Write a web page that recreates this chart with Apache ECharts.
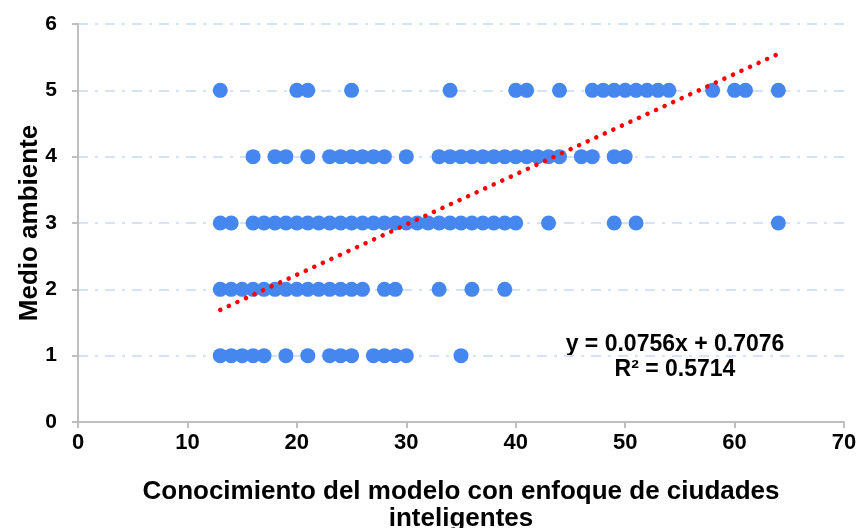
<!DOCTYPE html>
<html>
<head>
<meta charset="utf-8">
<script src="https://cdn.jsdelivr.net/npm/echarts@6/dist/echarts.min.js"></script>
<style>html,body{margin:0;padding:0;background:#fff;}#c{width:856px;height:528px;}</style>
</head>
<body>
<div id="c"></div>
<script>
// x values (Conocimiento) observed at each y level (Medio ambiente)
const xAtLevel1 = [13,14,15,16,17,19,21,23,24,25,27,28,29,30,35];
const xAtLevel2 = [13,14,15,16,17,18,19,20,21,22,23,24,25,26,28,29,33,36,39];
const xAtLevel3 = [13,14,16,17,18,19,20,21,22,23,24,25,26,27,28,29,30,31,32,33,34,35,36,37,38,39,40,43,49,51,64];
const xAtLevel4 = [16,18,19,21,23,24,25,26,27,28,30,33,34,35,36,37,38,39,40,41,42,43,44,46,47,49,50];
const xAtLevel5 = [13,20,21,25,34,40,41,44,47,48,49,50,51,52,53,54,58,60,61,64];
const levels = [1,2,3,4,5];
const trendX = [13, 64];
const trendY = [1.69, 5.55];
const xTicks = [0,10,20,30,40,50,60,70];
const yTicks = [0,1,2,3,4,5,6];
const equationText = 'y = 0.0756x + 0.7076';
const r2Text = 'R² = 0.5714';

const rows = [xAtLevel1, xAtLevel2, xAtLevel3, xAtLevel4, xAtLevel5];
const points = [];
rows.forEach((xs, i) => xs.forEach(x => points.push([x, levels[i]])));
const trend = trendX.map((x, i) => [x, trendY[i]]);

const F = "'Liberation Sans', Arial, sans-serif";

const chart = echarts.init(document.getElementById('c'), null, {renderer: 'canvas'});
chart.setOption({
  animation: false,
  backgroundColor: '#ffffff',
  grid: {left: 78, right: 12, top: 24, bottom: 106, outerBoundsMode: 'none', containLabel: false},
  xAxis: {
    type: 'value', min: xTicks[0], max: xTicks[xTicks.length-1], interval: 10,
    name: 'Conocimiento del modelo con enfoque de ciudades\ninteligentes',
    nameLocation: 'middle', nameGap: 56, nameMoveOverlap: false,
    nameTextStyle: {fontFamily: F, fontWeight: 'bold', fontSize: 26, color: '#000', lineHeight: 27},
    axisLine: {show: true, lineStyle: {color: '#BFBFBF', width: 2}},
    axisTick: {show: true, length: 6, lineStyle: {color: '#BFBFBF', width: 2}},
    axisLabel: {fontFamily: F, fontWeight: 'bold', fontSize: 22, color: '#000', margin: 10},
    splitLine: {show: false}
  },
  yAxis: {
    type: 'value', min: yTicks[0], max: yTicks[yTicks.length-1], interval: 1,
    name: 'Medio ambiente', nameLocation: 'middle', nameGap: 35, nameRotate: 90, nameMoveOverlap: false,
    nameTextStyle: {fontFamily: F, fontWeight: 'bold', fontSize: 26, color: '#000'},
    axisLine: {show: true, lineStyle: {color: '#BFBFBF', width: 2}},
    axisTick: {show: true, length: 6, lineStyle: {color: '#BFBFBF', width: 2}},
    axisLabel: {fontFamily: F, fontWeight: 'bold', fontSize: 21, color: '#000', margin: 21},
    splitLine: {show: true, lineStyle: {color: '#D5E3F6', width: 2, type: [10, 7, 3, 7]}}
  },
  series: [
    {
      type: 'scatter', data: points, symbol: 'circle', symbolSize: 15,
      itemStyle: {color: '#4587EE', opacity: 1}, z: 2
    },
    {
      type: 'line', data: trend, symbol: 'none', z: 5,
      lineStyle: {color: '#FF0000', width: 4.5, type: [0.1, 9.3], cap: 'round'}
    }
  ],
  graphic: [
    {type: 'text', x: 675, y: 345, style: {text: equationText, fontFamily: F, fontWeight: 'bold', fontSize: 23, fill: '#000', textAlign: 'center', textVerticalAlign: 'middle'}},
    {type: 'text', x: 675, y: 370, style: {text: r2Text, fontFamily: F, fontWeight: 'bold', fontSize: 23, fill: '#000', textAlign: 'center', textVerticalAlign: 'middle'}}
  ]
});
</script>
</body>
</html>
